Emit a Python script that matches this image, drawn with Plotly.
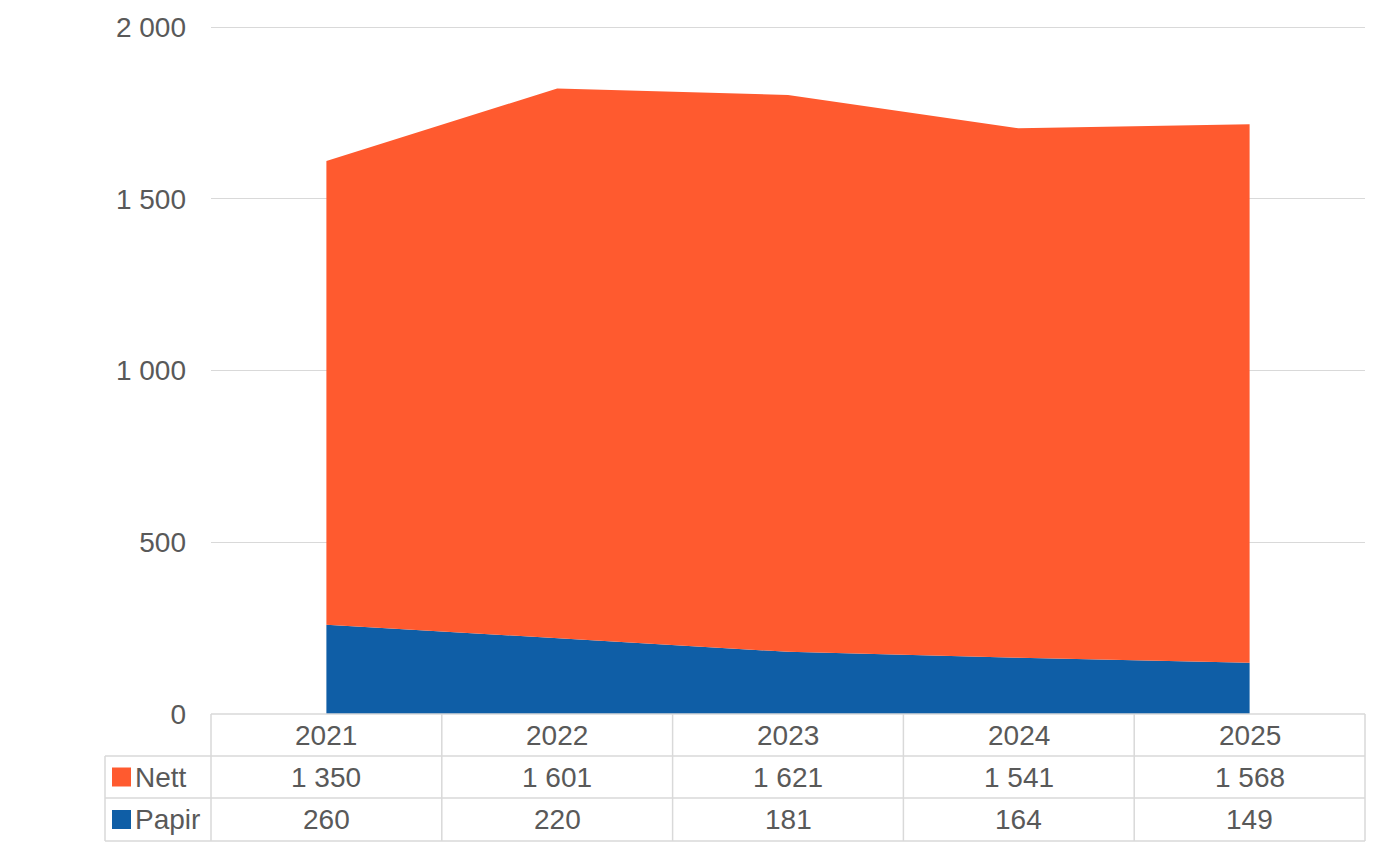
import plotly.graph_objects as go

# data
years = ["2021", "2022", "2023", "2024", "2025"]
nett = [1350, 1601, 1621, 1541, 1568]
papir = [260, 220, 181, 164, 149]
y_ticks = [0, 500, 1000, 1500, 2000]

colors = {"Nett": "#FF5A2F", "Papir": "#0F5EA6"}
text_color = "#595959"
line_color = "#D9D9D9"
font_family = "Liberation Sans, Arial, sans-serif"

# layout sizes (pixels); the page adds an 8px body margin
W, H = 1366, 856
ml, mr, mt, mb = 203, 9, 18, 150
plot_w = W - ml - mr
plot_h = H - mt - mb
row_edges_px = [0, 42, 84, 127]     # table row borders below the plot
left_col_px = 106                   # width of the legend column in the table


def py(off):
    # pixel offset below the plot bottom -> paper y
    return -off / plot_h


def pxl(off):
    # pixel offset left of the plot -> paper x
    return -off / plot_w


def col_x(i):
    # centre of category column i in paper x
    return (i + 0.5) / len(years)


xs = list(range(len(years)))
fig = go.Figure()

# stacked areas, bottom series first
for name, vals in [("Papir", papir), ("Nett", nett)]:
    fig.add_trace(go.Scatter(
        x=xs, y=vals, name=name,
        mode="lines", stackgroup="one",
        line=dict(width=0, color=colors[name]),
        fillcolor=colors[name],
        hoverinfo="x+y+name",
    ))

shapes = []
annotations = []
border = dict(color=line_color, width=1.5)

# table borders
x_left = pxl(left_col_px)
tb = py(row_edges_px[-1])
shapes.append(dict(type="line", xref="paper", yref="paper", x0=0, x1=1,
                   y0=0, y1=0, line=border))
for off in row_edges_px[1:]:
    shapes.append(dict(type="line", xref="paper", yref="paper", x0=x_left, x1=1,
                       y0=py(off), y1=py(off), line=border))
for i in range(len(years) + 1):
    xv = i / len(years)
    shapes.append(dict(type="line", xref="paper", yref="paper", x0=xv, x1=xv,
                       y0=0, y1=tb, line=border))
shapes.append(dict(type="line", xref="paper", yref="paper", x0=x_left, x1=x_left,
                   y0=py(row_edges_px[1]), y1=tb, line=border))


def fmt(v):
    return f"{v:,}".replace(",", " ")


def row_mid(r):
    return py((row_edges_px[r] + row_edges_px[r + 1]) / 2)


cell_font = dict(family=font_family, size=28, color=text_color)

for i, yr in enumerate(years):
    annotations.append(dict(x=col_x(i), y=row_mid(0), xref="paper", yref="paper",
                            text=yr, showarrow=False, font=cell_font,
                            xanchor="center", yanchor="middle"))

for r, (name, vals) in enumerate([("Nett", nett), ("Papir", papir)], start=1):
    for i, v in enumerate(vals):
        annotations.append(dict(x=col_x(i), y=row_mid(r), xref="paper", yref="paper",
                                text=fmt(v), showarrow=False, font=cell_font,
                                xanchor="center", yanchor="middle"))
    # legend key + series label
    ym = row_mid(r)
    half = 9.5 / plot_h
    shapes.append(dict(type="rect", xref="paper", yref="paper",
                       x0=pxl(left_col_px - 7), x1=pxl(left_col_px - 26),
                       y0=ym - half, y1=ym + half, fillcolor=colors[name],
                       line=dict(width=0)))
    annotations.append(dict(x=pxl(left_col_px - 28), y=ym, xref="paper", yref="paper",
                            text=name, showarrow=False, font=cell_font,
                            xanchor="left", yanchor="middle"))

fig.update_layout(
    width=W, height=H,
    margin=dict(l=ml, r=mr, t=mt, b=mb),
    paper_bgcolor="white", plot_bgcolor="white",
    separators=", ",
    showlegend=False,
    font=dict(family=font_family, color=text_color),
    shapes=shapes,
    annotations=annotations,
)
fig.update_xaxes(range=[-0.5, len(years) - 0.5], showticklabels=False,
                 showgrid=False, zeroline=False, showline=False, fixedrange=True,
                 automargin=False)
fig.update_yaxes(range=[0, 2003], tickvals=y_ticks, tickformat=",",
                 showgrid=True, gridcolor=line_color, gridwidth=1.3,
                 zeroline=False, showline=False, ticks="",
                 ticklabelstandoff=24, automargin=False,
                 tickfont=dict(family=font_family, size=28, color=text_color))

fig.write_html("out.html")
